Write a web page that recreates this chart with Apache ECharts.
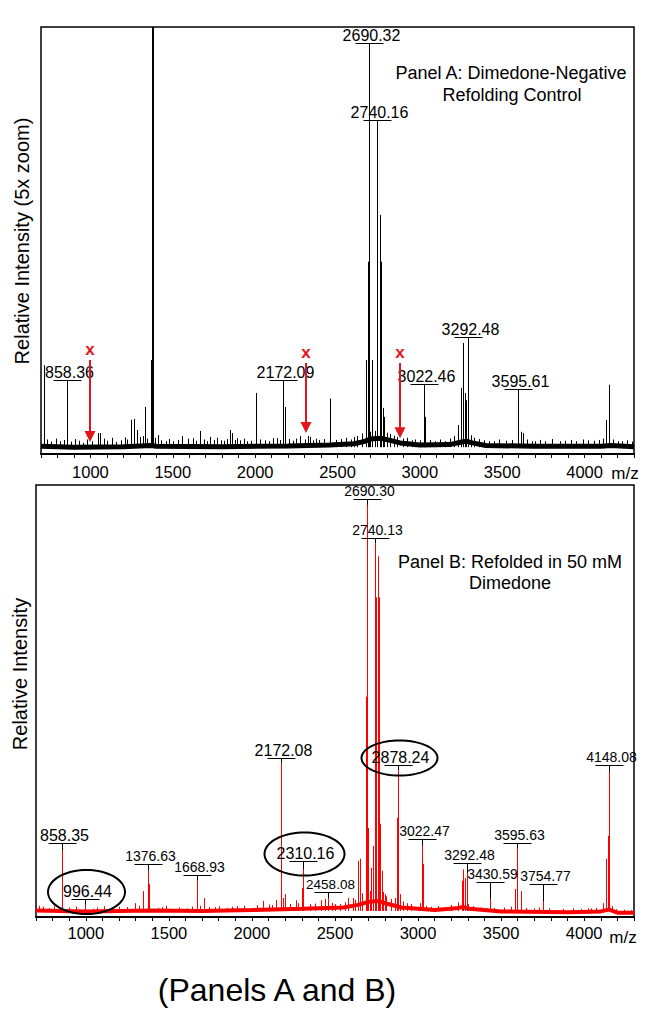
<!DOCTYPE html>
<html><head><meta charset="utf-8">
<script src="https://cdn.jsdelivr.net/npm/echarts@6/dist/echarts.min.js"></script>
<style>html,body{margin:0;padding:0;background:#fff;}#c{width:658px;height:1010px;}</style>
</head><body><div id="c"></div>
<script>
// ================= DATA =================
const mzRange = [700, 4300];
const tickLabels = [1000, 1500, 2000, 2500, 3000, 3500, 4000];

// Panel A (control) peaks: [m/z, relative intensity (% of panel height)]
const peaksA = [
  [718, 20.8], [858.36, 16.2], [955, 2.6], [1046, 4.9], [1058, 4.9], [1156, 2.8],
  [1247, 8.0], [1265, 8.2], [1283, 5.6], [1301, 4.0], [1332, 11.0], [1368, 22.0],
  [1376, 100], [1379, 100], [1382, 100],
  [1411, 4.4], [1460, 3.0], [1556, 4.2], [1623, 3.7], [1666, 5.4], [1726, 4.0],
  [1790, 3.2], [1848, 5.6], [1860, 4.9], [1890, 3.7], [1950, 3.0], [2005, 14.3],
  [2060, 3.2], [2133, 3.7], [2172.09, 15.9], [2181, 11.0], [2273, 4.2], [2321, 4.2],
  [2333, 4.0], [2390, 3.3], [2455, 13.0], [2520, 3.5], [2600, 4.0], [2673, 22],
  [2684, 45], [2687, 45], [2690.32, 95.5], [2710, 22], [2740.16, 77.3],
  [2758, 56], [2762, 45], [2766, 45], [2777, 10.8], [2785, 8.7], [2950, 3.2],
  [3022.46, 15.0], [3032, 8.7], [3150, 3.0], [3232, 6.8], [3250, 15.5], [3262, 26],
  [3274, 14.3], [3280, 12.6], [3292.48, 26], [3420, 3.0], [3595.61, 14.3], [3614, 5.2],
  [3626, 4.9], [3700, 3.0], [3850, 3.0], [4020, 3.2], [4131, 8.0], [4149, 16.2], [4200, 3.0]
];
// Panel A small noise spikes on the baseline
const noiseA = [
  [735, 3.4], [760, 2.9], [790, 3.6], [815, 3.0], [840, 3.3], [880, 2.9], [905, 3.5], [930, 3.1],
  [980, 3.4], [1010, 3.0], [1080, 3.6], [1100, 3.1], [1130, 3.8], [1185, 3.2], [1210, 3.9],
  [1225, 3.4], [1320, 4.2], [1345, 3.6], [1395, 3.8], [1430, 3.2], [1480, 3.5], [1500, 3.0],
  [1530, 3.3], [1590, 3.6], [1640, 3.1], [1690, 3.4], [1710, 3.0], [1750, 3.3], [1770, 3.8],
  [1810, 3.1], [1830, 3.5], [1875, 3.3], [1910, 3.2], [1930, 3.6], [1975, 3.1], [2030, 3.4],
  [2085, 3.0], [2110, 3.7], [2150, 3.3], [2205, 3.5], [2230, 3.1], [2250, 3.6], [2300, 3.4],
  [2350, 3.2], [2370, 3.6], [2420, 3.5], [2490, 3.3], [2550, 3.8], [2580, 3.4], [2620, 4.2],
  [2650, 4.8], [2700, 5.2], [2730, 5.4], [2800, 5.0], [2820, 4.7], [2840, 4.3], [2860, 4.0],
  [2900, 3.6], [2920, 3.8], [2970, 3.4], [3000, 3.2], [3060, 3.3], [3090, 3.0], [3120, 3.4],
  [3180, 3.6], [3210, 4.2], [3310, 4.4], [3330, 3.8], [3360, 3.5], [3390, 3.2], [3450, 3.0],
  [3480, 3.4], [3520, 3.1], [3560, 3.3], [3650, 3.4], [3680, 3.0], [3730, 3.3], [3760, 3.0],
  [3800, 3.5], [3880, 3.1], [3920, 3.3], [3950, 3.0], [3990, 3.4], [4060, 3.1], [4090, 3.3],
  [4110, 3.6], [4170, 3.4], [4230, 3.0], [4260, 3.2], [4290, 2.9]
];
// Panel A noise-band centre line
const baseA = [
  [700, 1.8], [900, 1.6], [1200, 1.7], [1370, 2.0], [1400, 1.8], [1800, 1.7], [2200, 1.9],
  [2450, 2.1], [2600, 2.4], [2660, 2.9], [2700, 3.5], [2760, 3.7], [2820, 3.2], [2880, 2.6],
  [3000, 2.1], [3180, 2.2], [3240, 2.7], [3280, 3.0], [3320, 2.6], [3400, 2.0], [3700, 1.8],
  [4100, 1.8], [4160, 2.0], [4300, 1.7]
];
const labelMzA = [858.36, 2172.09, 2690.32, 2740.16, 3022.46, 3292.48, 3595.61];
const labelTextA = ['858.36', '2172.09', '2690.32', '2740.16', '3022.46', '3292.48', '3595.61'];
const labelLevelA = [17.3, 17.3, 96.3, 78.2, 16.4, 27.4, 15.2];
// red arrows: [m/z, shaft top, arrow tip]
const arrowsA = [[996.44, 22.0, 2.8], [2310.16, 21.3, 4.9], [2878.24, 21.3, 3.7]];

// Panel B (50 mM dimedone) peaks
const peaksB = [
  [720, 2.6], [858.35, 15.5], [996.44, 2.8], [1044, 1.9], [1297, 3.2], [1345, 6.0],
  [1376.63, 10.7], [1381, 7.6], [1435, 2.1], [1520, 1.8], [1610, 2.0], [1668.93, 8.4],
  [1712, 4.4], [1778, 2.3], [1850, 2.1], [1910, 2.5], [1990, 2.0], [2067, 3.7],
  [2121, 2.8], [2145, 3.9], [2172.08, 35.7], [2187, 4.4], [2199, 5.3], [2265, 3.9],
  [2301, 6.7], [2310.16, 11.1], [2350, 3.0], [2415, 3.9], [2440, 4.2], [2458.08, 4.4],
  [2530, 3.0], [2578, 4.4], [2608, 4.4], [2638, 13], [2650, 13.5], [2687, 51],
  [2690.30, 95.4], [2698, 20.6], [2716, 11.4], [2728, 16.5],
  [2740.13, 86.5], [2744, 74], [2758, 83.5], [2763, 74], [2770, 21.6],
  [2782, 10.7], [2800, 5.3], [2860, 4.4], [2874, 23], [2878.24, 33.9],
  [2890, 5.3], [2932, 3.2], [3011, 3.2], [3022.47, 16.5], [3029, 12.3], [3149, 2.1],
  [3263, 8.4], [3269, 11.0], [3281, 9.0], [3292.48, 10.2], [3414, 2.0], [3430.59, 4.2],
  [3582, 6.5], [3595.63, 16.0], [3618, 6.0], [3700, 2.0], [3754.77, 3.7], [3835, 1.5],
  [4021, 2.0], [4039, 2.0], [4111, 3.2], [4129, 13.5], [4145, 18.8], [4148.08, 33.6],
  [4165, 2.5]
];
const noiseB = [
  [745, 2.4], [780, 2.1], [810, 2.5], [900, 2.2], [940, 2.4], [1070, 2.2], [1110, 2.5],
  [1160, 2.1], [1200, 2.4], [1250, 2.3], [1320, 2.6], [1460, 2.3], [1480, 2.6], [1560, 2.2],
  [1640, 2.4], [1690, 2.6], [1740, 2.3], [1800, 2.5], [1880, 2.4], [1950, 2.6], [2030, 2.7],
  [2100, 2.9], [2230, 3.0], [2280, 3.2], [2380, 3.1], [2480, 3.3], [2500, 3.0], [2560, 3.4],
  [2620, 4.0], [2660, 5.5], [2710, 6.0], [2790, 5.8], [2810, 4.8], [2840, 4.2], [2910, 3.6],
  [2960, 3.0], [3050, 2.6], [3080, 2.4], [3120, 2.5], [3200, 2.8], [3240, 3.4], [3300, 3.0],
  [3330, 2.5], [3380, 2.2], [3460, 2.1], [3520, 2.2], [3560, 2.4], [3650, 2.1], [3730, 2.2],
  [3790, 2.0], [3870, 1.9], [3930, 2.0], [3980, 1.9], [4070, 2.1], [4190, 1.8], [4240, 1.7],
  [4280, 1.6]
];
const baseB = [
  [700, 1.5], [1000, 1.3], [1400, 1.5], [1700, 1.4], [2000, 1.6], [2300, 1.9], [2550, 2.2],
  [2640, 2.8], [2700, 3.5], [2760, 3.7], [2820, 3.0], [2900, 2.2], [3100, 1.6], [3230, 2.0],
  [3270, 2.3], [3310, 1.9], [3500, 1.3], [3900, 1.1], [4100, 1.3], [4150, 1.7], [4200, 1.0],
  [4300, 1.0]
];
const labelMzB = [858.35, 996.44, 1376.63, 1668.93, 2172.08, 2310.16, 2458.08, 2690.30,
  2740.13, 2878.24, 3022.47, 3292.48, 3430.59, 3595.63, 3754.77, 4148.08];
const labelTextB = ['858.35', '996.44', '1376.63', '1668.93', '2172.08', '2310.16', '2458.08',
  '2690.30', '2740.13', '2878.24', '3022.47', '3292.48', '3430.59', '3595.63', '3754.77', '4148.08'];
const labelLevelB = [17.1, 4.2, 12.3, 9.7, 36.8, 13.0, 5.8, 96.8, 87.7, 35.2, 18.1, 12.5,
  8.1, 17.1, 7.6, 35.2];
const circledB = ['996.44', '2310.16', '2878.24'];

// ================= STYLE =================
const FONT = 'Arial, "Liberation Sans", Helvetica, sans-serif';
const RED = '#ff0000';
const ARROW_RED = '#e3141c';
const bigLabelsB = {'858.35': 16, '996.44': 16, '2172.08': 16, '2310.16': 16, '2878.24': 16, '2458.08': 13.5};
const ellipseSize = {'996.44': [38.5, 22], '2310.16': [40, 21.5], '2878.24': [38, 17.5]};

function peakRender(color, base) {
  return function (params, api) {
    const x = api.value(0), v = api.value(1);
    const p1 = api.coord([x, base]);
    const p2 = api.coord([x, Math.min(v, 100)]);
    const px = Math.round(p1[0]) + 0.5;
    return {type: 'line', shape: {x1: px, y1: p1[1], x2: px, y2: p2[1]},
      style: {stroke: color, lineWidth: 1}};
  };
}

function nearestPeak(peaks, mz) {
  let best = peaks[0];
  for (const p of peaks) if (Math.abs(p[0] - mz) < Math.abs(best[0] - mz)) best = p;
  return best;
}

function labelRender(peaks, texts, sizeFn) {
  return function (params, api) {
    const mz = api.value(0), lvl = api.value(1);
    const txt = texts[params.dataIndex];
    const pk = nearestPeak(peaks, mz);
    const pb = api.coord([mz, lvl]);
    const pt = api.coord([mz, Math.min(pk[1], 100)]);
    const px = Math.round(pb[0]) + 0.5;
    const by = Math.round(pb[1]) + 0.5;
    const fs = sizeFn(txt);
    const tx = px + 2, ty = by - 8.5;
    const children = [
      {type: 'line', shape: {x1: px - 14, y1: by, x2: px + 14, y2: by}, style: {stroke: '#000', lineWidth: 1}},
      {type: 'line', shape: {x1: px, y1: by, x2: px, y2: Math.max(pt[1], by + 3)}, style: {stroke: '#000', lineWidth: 1}},
      {type: 'text', x: tx, y: ty, style: {text: txt, fontSize: fs, fontFamily: FONT, fill: '#000',
        align: 'center', verticalAlign: 'middle', textAlign: 'center', textVerticalAlign: 'middle'}}
    ];
    if (circledB.indexOf(txt) >= 0 && ellipseSize[txt]) {
      const [rx, ry] = ellipseSize[txt];
      const cx = tx - 1, cy = ty + 1;
      const pts = [];
      for (let i = 0; i < 72; i++) {
        const a = i / 72 * Math.PI * 2;
        pts.push([cx + rx * Math.cos(a), cy + ry * Math.sin(a)]);
      }
      children.push({type: 'polygon', shape: {points: pts}, style: {fill: 'none', stroke: '#000', lineWidth: 2}});
    }
    return {type: 'group', children: children};
  };
}

function arrowRender(params, api) {
  const mz = api.value(0);
  const top = api.coord([mz, api.value(1)]);
  const tip = api.coord([mz, api.value(2)]);
  const x = Math.round(top[0]);
  return {type: 'group', children: [
    {type: 'line', shape: {x1: x, y1: top[1], x2: x, y2: tip[1] - 9}, style: {stroke: ARROW_RED, lineWidth: 2}},
    {type: 'polygon', shape: {points: [[x - 5.5, tip[1] - 11], [x + 5.5, tip[1] - 11], [x, tip[1]]]}, style: {fill: ARROW_RED}},
    {type: 'text', x: x, y: top[1] - 11, style: {text: 'x', fontSize: 17, fontWeight: 'bold', fontFamily: FONT, fill: ARROW_RED,
      align: 'center', verticalAlign: 'middle', textAlign: 'center', textVerticalAlign: 'middle'}}
  ]};
}

function xAxisDef(gi, margin) {
  return {
    gridIndex: gi, type: 'value', min: mzRange[0], max: mzRange[1], interval: 100,
    axisLine: {show: true, onZero: false, lineStyle: {color: '#000', width: 2}},
    axisTick: {show: true, inside: false, length: 4, lineStyle: {color: '#000', width: 1}},
    axisLabel: {show: true, margin: margin, fontSize: 16.5, fontFamily: FONT, color: '#000',
      formatter: function (v) { return tickLabels.indexOf(v) >= 0 ? String(v) : ''; }},
    splitLine: {show: false}
  };
}
function yAxisDef(gi) {
  return {gridIndex: gi, type: 'value', min: 0, max: 100, show: false, splitLine: {show: false}};
}
function textEl(x, y, text, size, rot) {
  const el = {type: 'text', x: x, y: y, style: {text: text, fontSize: size, fontFamily: FONT, fill: '#000',
    align: 'center', verticalAlign: 'middle', textAlign: 'center', textVerticalAlign: 'middle'}};
  if (rot) el.rotation = rot;
  return el;
}

const option = {
  animation: false,
  backgroundColor: '#fff',
  textStyle: {fontFamily: FONT},
  grid: [
    {left: 41, right: 24, top: 27, height: 427, show: true, borderColor: '#000', borderWidth: 1.5, backgroundColor: 'transparent', containLabel: false},
    {left: 36, right: 24, top: 485, height: 432, show: true, borderColor: '#000', borderWidth: 1.5, backgroundColor: 'transparent', containLabel: false}
  ],
  xAxis: [xAxisDef(0, 9), xAxisDef(1, 7.5)],
  yAxis: [yAxisDef(0), yAxisDef(1)],
  series: [
    {type: 'line', xAxisIndex: 0, yAxisIndex: 0, data: baseA, showSymbol: false, silent: true,
      lineStyle: {color: '#000', width: 5}, z: 2},
    {type: 'custom', xAxisIndex: 0, yAxisIndex: 0, data: noiseA, renderItem: peakRender('#000', 1.6),
      encode: {x: 0, y: 1}, silent: true, z: 3},
    {type: 'custom', xAxisIndex: 0, yAxisIndex: 0, data: peaksA, renderItem: peakRender('#000', 1.6),
      encode: {x: 0, y: 1}, silent: true, z: 3},
    {type: 'custom', xAxisIndex: 0, yAxisIndex: 0, data: labelMzA.map((m, i) => [m, labelLevelA[i]]),
      renderItem: labelRender(peaksA, labelTextA, () => 16), encode: {x: 0, y: 1}, silent: true, z: 4},
    {type: 'custom', xAxisIndex: 0, yAxisIndex: 0, data: arrowsA, renderItem: arrowRender,
      encode: {x: 0, y: 1}, silent: true, z: 5},
    {type: 'line', xAxisIndex: 1, yAxisIndex: 1, data: baseB, showSymbol: false, silent: true,
      lineStyle: {color: RED, width: 4}, z: 2},
    {type: 'custom', xAxisIndex: 1, yAxisIndex: 1, data: noiseB, renderItem: peakRender(RED, 1.4),
      encode: {x: 0, y: 1}, silent: true, z: 3},
    {type: 'custom', xAxisIndex: 1, yAxisIndex: 1, data: peaksB, renderItem: peakRender(RED, 1.4),
      encode: {x: 0, y: 1}, silent: true, z: 3},
    {type: 'custom', xAxisIndex: 1, yAxisIndex: 1, data: labelMzB.map((m, i) => [m, labelLevelB[i]]),
      renderItem: labelRender(peaksB, labelTextB, t => bigLabelsB[t] || 14), encode: {x: 0, y: 1}, silent: true, z: 4}
  ],
  graphic: [
    textEl(22, 241, 'Relative Intensity (5x zoom)', 20, Math.PI / 2),
    textEl(20, 674, 'Relative Intensity', 20, Math.PI / 2),
    textEl(511, 73, 'Panel A: Dimedone-Negative', 18),
    textEl(512, 95, 'Refolding Control', 18),
    textEl(510, 562, 'Panel B: Refolded in 50 mM', 18),
    textEl(510, 583, 'Dimedone', 18),
    textEl(625, 473, 'm/z', 17),
    textEl(623, 937, 'm/z', 17),
    textEl(277, 990, '(Panels A and B)', 32)
  ]
};

const chart = echarts.init(document.getElementById('c'), null, {renderer: 'svg', width: 658, height: 1010});
chart.setOption(option);
</script>
</body></html>
